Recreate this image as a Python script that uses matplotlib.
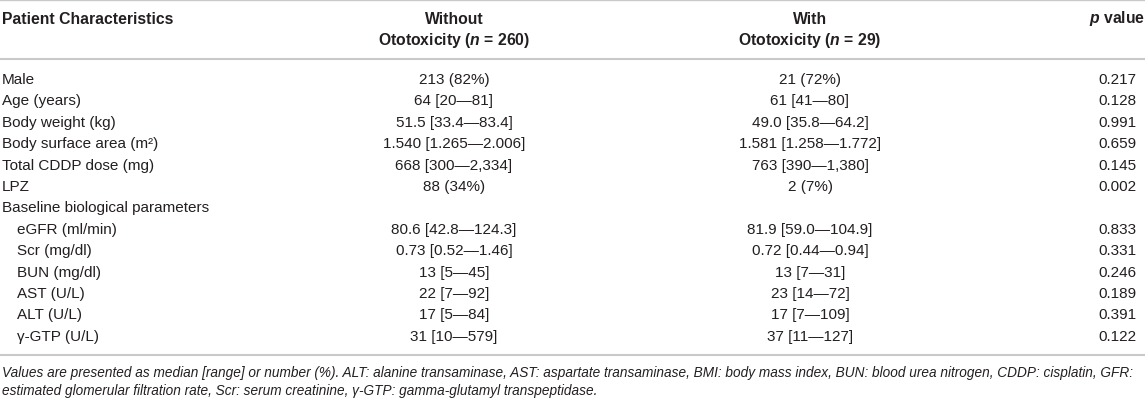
import matplotlib
matplotlib.use("Agg")
import matplotlib.pyplot as plt
from matplotlib.lines import Line2D

plt.rcParams['font.family'] = ['Liberation Sans', 'DejaVu Sans']
plt.rcParams['mathtext.fontset'] = 'custom'
plt.rcParams['mathtext.rm'] = 'Liberation Sans'
plt.rcParams['mathtext.it'] = 'Liberation Sans:italic:bold'
plt.rcParams['mathtext.bf'] = 'Liberation Sans:bold'

# ---- data ----
col_headers = ["Patient Characteristics",
               "Without\nOtotoxicity ($n$ = 260)",
               "With\nOtotoxicity ($n$ = 29)",
               "$p$ value"]
characteristics = ["Male", "Age (years)", "Body weight (kg)",
                   "Body surface area (m\u00b2)", "Total CDDP dose (mg)", "LPZ",
                   "Baseline biological parameters", "eGFR (ml/min)", "Scr (mg/dl)",
                   "BUN (mg/dl)", "AST (U/L)", "ALT (U/L)", "γ-GTP (U/L)"]
indented = [False, False, False, False, False, False, False,
            True, True, True, True, True, True]
without_oto = ["213 (82%)", "64 [20\u201481]", "51.5 [33.4\u201483.4]",
               "1.540 [1.265\u20142.006]", "668 [300\u20142,334]", "88 (34%)", "",
               "80.6 [42.8\u2014124.3]", "0.73 [0.52\u20141.46]", "13 [5\u201445]",
               "22 [7\u201492]", "17 [5\u201484]", "31 [10\u2014579]"]
with_oto = ["21 (72%)", "61 [41\u201480]", "49.0 [35.8\u201464.2]",
            "1.581 [1.258\u20141.772]", "763 [390\u20141,380]", "2 (7%)", "",
            "81.9 [59.0\u2014104.9]", "0.72 [0.44\u20140.94]", "13 [7\u201431]",
            "23 [14\u201472]", "17 [7\u2014109]", "37 [11\u2014127]"]
p_values = ["0.217", "0.128", "0.991", "0.659", "0.145", "0.002", "",
            "0.833", "0.331", "0.246", "0.189", "0.391", "0.122"]
footnote = ["Values are presented as median [range] or number (%). ALT: alanine transaminase, "
            "AST: aspartate transaminase, BMI: body mass index, BUN: blood urea nitrogen, "
            "CDDP: cisplatin, GFR:",
            "estimated glomerular filtration rate, Scr: serum creatinine, "
            "\u03b3-GTP: gamma-glutamyl transpeptidase."]

W, H = 1145, 402
fig = plt.figure(figsize=(W / 100, H / 100), dpi=100)
ax = fig.add_axes([0, 0, 1, 1])
ax.set_xlim(0, W)
ax.set_ylim(H, 0)
ax.axis('off')

txt = '#231f20'
line_c = '#c9c9c9'
hsize = 11.3
bsize = 11.0

# column positions
x_label = 2
x_indent = 17
x_c1 = 454
x_c2 = 810
x_c3 = 1117

# rules
for yy, lw in [(1, 1.0), (60, 1.5), (356, 1.5)]:
    ax.add_line(Line2D([0, W], [yy, yy], color=line_c, lw=lw))

# header
ax.text(x_label, 19, col_headers[0], fontsize=hsize, fontweight='bold',
        color=txt, ha='left', va='center')
for xc, h in [(x_c1, col_headers[1]), (x_c2, col_headers[2])]:
    top, bot = h.split("\n")
    ax.text(xc, 19, top, fontsize=hsize, fontweight='bold', color=txt,
            ha='center', va='center')
    ax.text(xc, 41, bot, fontsize=hsize, fontweight='bold', color=txt,
            ha='center', va='center')
ax.text(x_c3, 19, col_headers[3], fontsize=hsize, fontweight='bold',
        color=txt, ha='center', va='center')

# body
y0, dy = 80, 21.4
for i, lab in enumerate(characteristics):
    y = y0 + i * dy
    ax.text(x_indent if indented[i] else x_label, y, lab, fontsize=bsize,
            color=txt, ha='left', va='center')
    ax.text(x_c1, y, without_oto[i], fontsize=bsize, color=txt,
            ha='center', va='center')
    ax.text(x_c2, y, with_oto[i], fontsize=bsize, color=txt,
            ha='center', va='center')
    ax.text(x_c3, y, p_values[i], fontsize=bsize, color=txt,
            ha='center', va='center')

# footnote
for j, fl in enumerate(footnote):
    ax.text(x_label, 373 + j * 18.5, fl, fontsize=9.85, style='italic',
            color=txt, ha='left', va='center')

fig.savefig("out.png", dpi=100)
